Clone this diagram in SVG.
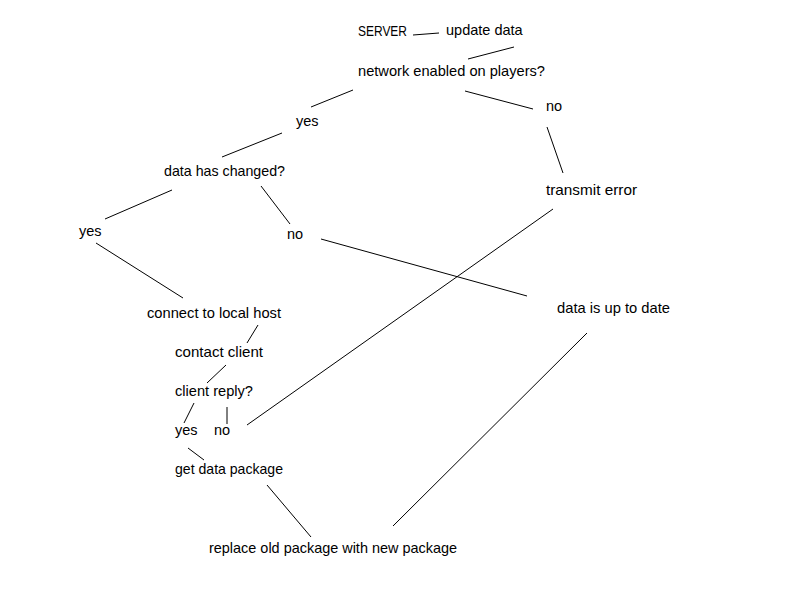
<svg xmlns="http://www.w3.org/2000/svg" width="800" height="600" viewBox="0 0 800 600">
<style>
text{font-family:"Liberation Sans","Open Sans",sans-serif;font-size:14.5px;fill:#000}
line{stroke:#000;stroke-width:1}
</style>
<rect width="800" height="600" fill="#fff"/>
<g id="connectors">
<line x1="413" y1="35" x2="439" y2="33"/>
<line x1="514" y1="47" x2="468" y2="59"/>
<line x1="353" y1="90" x2="311" y2="107"/>
<line x1="465" y1="91" x2="533" y2="109"/>
<line x1="547" y1="127" x2="563" y2="173"/>
<line x1="282" y1="133" x2="222" y2="157"/>
<line x1="172" y1="190" x2="105" y2="219"/>
<line x1="261" y1="186" x2="290" y2="224"/>
<line x1="321" y1="239" x2="527" y2="296"/>
<line x1="96" y1="243" x2="183" y2="298"/>
<line x1="553" y1="209" x2="247" y2="425"/>
<line x1="587" y1="333" x2="393" y2="526"/>
<line x1="267" y1="485" x2="311" y2="537"/>
<line x1="258" y1="325" x2="247" y2="343"/>
<line x1="226" y1="365" x2="207" y2="383"/>
<line x1="194" y1="403" x2="184" y2="423"/>
<line x1="227" y1="407" x2="227" y2="424"/>
<line x1="188" y1="448" x2="204" y2="460"/>
</g>
<g id="server"><text x="358" y="36" textLength="49" lengthAdjust="spacingAndGlyphs">SERVER</text></g>
<g id="update"><text x="446" y="35">update data</text></g>
<g id="network"><text x="358" y="76" textLength="187" lengthAdjust="spacingAndGlyphs">network enabled on players?</text></g>
<g id="yes1"><text x="296" y="126">yes</text></g>
<g id="no1"><text x="546" y="111">no</text></g>
<g id="changed"><text x="164" y="176" textLength="121" lengthAdjust="spacingAndGlyphs">data has changed?</text></g>
<g id="transmit"><text x="546" y="195" textLength="91" lengthAdjust="spacingAndGlyphs">transmit error</text></g>
<g id="yes2"><text x="79" y="236">yes</text></g>
<g id="no2"><text x="287" y="239">no</text></g>
<g id="uptodate"><text x="557" y="313" textLength="113" lengthAdjust="spacingAndGlyphs">data is up to date</text></g>
<g id="connect"><text x="147" y="318" textLength="134" lengthAdjust="spacingAndGlyphs">connect to local host</text></g>
<g id="contact"><text x="175" y="357" textLength="88" lengthAdjust="spacingAndGlyphs">contact client</text></g>
<g id="reply"><text x="175" y="396" textLength="78" lengthAdjust="spacingAndGlyphs">client reply?</text></g>
<g id="yes3"><text x="175" y="435">yes</text></g>
<g id="no3"><text x="214" y="435">no</text></g>
<g id="getdata"><text x="175" y="474" textLength="108" lengthAdjust="spacingAndGlyphs">get data package</text></g>
<g id="replace"><text x="209" y="553" textLength="248" lengthAdjust="spacingAndGlyphs">replace old package with new package</text></g>
</svg>
